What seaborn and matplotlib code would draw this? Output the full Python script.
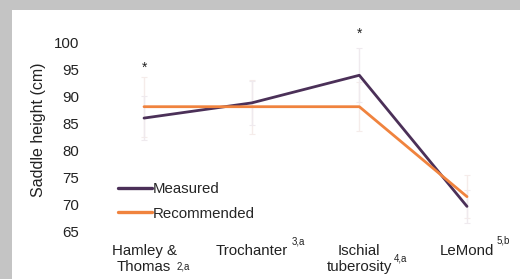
import pandas as pd
import matplotlib
matplotlib.use("Agg")
import matplotlib.pyplot as plt
import matplotlib.transforms as mtransforms
from matplotlib.patches import Rectangle
import seaborn as sns

methods = ["Hamley &\nThomas", "Trochanter", "Ischial\ntuberosity", "LeMond"]
sups = ["2,a", "3,a", "4,a", "5,b"]
measured = [86.0, 88.8, 93.9, 69.7]
recommended = [88.1, 88.1, 88.1, 71.5]
measured_sd = [4.0, 4.0, 5.0, 3.0]
recommended_sd = [5.5, 5.0, 4.5, 4.0]
star_y = [95.3, None, 101.5, None]

pos = list(range(len(methods)))
df = pd.DataFrame({
    "pos": pos * 2,
    "height": measured + recommended,
    "group": ["Measured"] * 4 + ["Recommended"] * 4,
})

sns.set_style("white")
plt.rcParams["font.family"] = ["Liberation Sans", "DejaVu Sans"]
plt.rcParams["ytick.major.pad"] = 5
plt.rcParams["xtick.major.pad"] = 3

W, H = 520, 279
fig = plt.figure(figsize=(W / 100, H / 100), dpi=100)
fig.patch.set_facecolor("#c4c4c4")
fig.patches.append(Rectangle((12 / W, 0), 1, 1 - 10 / H, transform=fig.transFigure,
                             facecolor="white", edgecolor="none", zorder=-5))

ax = fig.add_axes([86 / W, 1 - 240 / H, 429 / W, 220 / H])
ax.set_facecolor("none")
ax.set_zorder(2)

# very faint error bars
ax.errorbar(pos, recommended, yerr=recommended_sd, fmt="none", ecolor="#f5ecea",
            elinewidth=1.0, capsize=2.5, capthick=0.8, zorder=1)
ax.errorbar(pos, measured, yerr=measured_sd, fmt="none", ecolor="#efeaee",
            elinewidth=1.0, capsize=2.5, capthick=0.8, zorder=1)

palette = {"Measured": "#4b3058", "Recommended": "#f0833e"}
sns.lineplot(data=df, x="pos", y="height", hue="group", palette=palette,
             linewidth=2.0, ax=ax, legend=False, zorder=3)

for i, s in enumerate(star_y):
    if s is not None:
        ax.text(i, s, "*", ha="center", va="center", fontsize=10, color="#222222")

ax.set_xlim(-0.539, 3.446)
ax.set_ylim(63.5, 104.1)
ax.set_yticks([65, 70, 75, 80, 85, 90, 95, 100])
ax.set_xticks(pos, methods)
ax.tick_params(axis="both", length=0, labelsize=10.8, colors="#222222")
for lab in ax.get_xticklabels():
    lab.set_linespacing(1.2)
sns.despine(ax=ax, left=True, bottom=True)

ax.set_xlabel("")
ax.set_ylabel("Saddle height (cm)", fontsize=11.5, color="#222222")
ax.yaxis.set_label_coords(-0.093, 0.5)

# superscripts beside tick labels (offsets in points from tick position)
sup_off = [(23.5, -15.5), (29, 2.2), (24.5, -10), (21, 3)]
for i, (t, (dx, dy)) in enumerate(zip(sups, sup_off)):
    tr = mtransforms.offset_copy(ax.get_xaxis_transform(), fig=fig, x=dx, y=dy, units="points")
    ax.text(i, 0, t, transform=tr, fontsize=7, ha="left", va="top", color="#222222")

handles = [plt.Line2D([], [], color=palette[g], linewidth=2.4) for g in palette]
ax.legend(handles, list(palette), loc="upper left", bbox_to_anchor=(118 / W, 1 - 182 / H),
          bbox_transform=fig.transFigure, frameon=False, fontsize=10.8, handlelength=2.27,
          handletextpad=0.05, labelspacing=0.7, borderpad=0, borderaxespad=0)

fig.savefig("out.png", dpi=100)
